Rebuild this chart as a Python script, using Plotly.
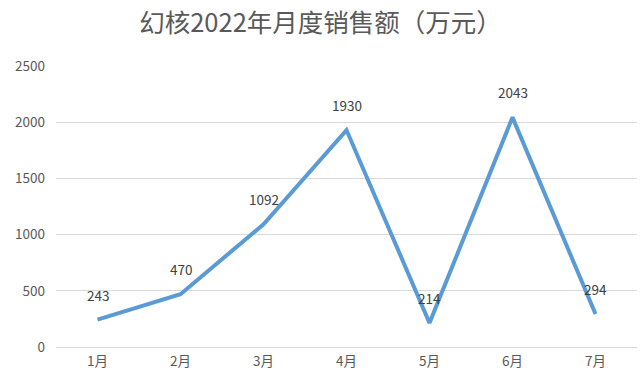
import plotly.graph_objects as go

months = ["1月", "2月", "3月", "4月", "5月", "6月", "7月"]
sales = [243, 470, 1092, 1930, 214, 2043, 294]
y_ticks = [0, 500, 1000, 1500, 2000, 2500]

fig = go.Figure(go.Scatter(
    x=months, y=sales, mode="lines",
    line=dict(color="#5B9BD5", width=4),
))
for m, v in zip(months, sales):
    fig.add_annotation(x=m, y=v, text=str(v), showarrow=False, yshift=25, yanchor="middle",
                       font=dict(size=13.5, color="#404040", family="Noto Sans CJK SC"))
fig.update_layout(
    width=641, height=382,
    margin=dict(l=56, r=4, t=66, b=35),
    paper_bgcolor="white", plot_bgcolor="white",
    title=dict(text="幻核2022年月度销售额（万元）", x=0.5, xanchor="center", y=0.94, yanchor="middle",
               font=dict(size=25.5, color="#595959", family="Noto Sans CJK SC")),
    showlegend=False,
    font=dict(family="Noto Sans CJK SC", color="#595959", size=13),
)
fig.update_xaxes(range=[-0.5, 6.5], showgrid=False, showline=False, ticks="", tickfont=dict(size=13.5, color="#595959"),
                 ticklabelstandoff=4)
fig.update_yaxes(range=[0, 2500], tickvals=y_ticks, showgrid=True, gridcolor="#D9D9D9", gridwidth=1,
                 zeroline=True, zerolinecolor="#D9D9D9", zerolinewidth=1,
                 tickfont=dict(size=13.5, color="#595959"), ticks="", ticklabelstandoff=10)
fig.write_html("out.html")
